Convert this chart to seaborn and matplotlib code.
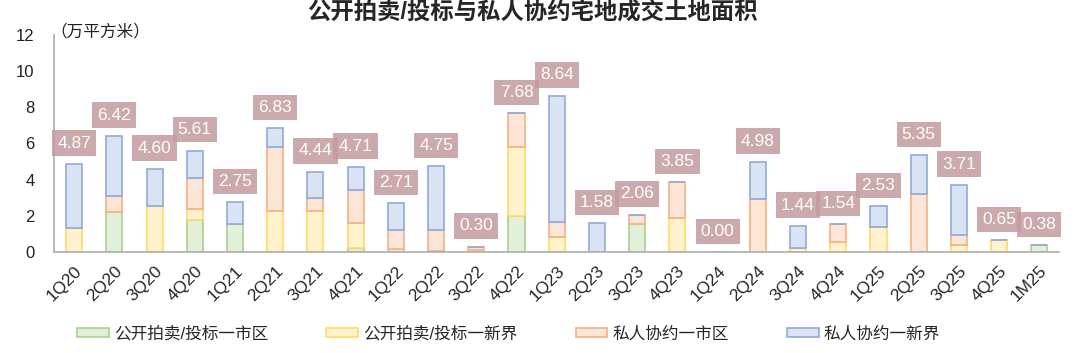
import matplotlib
matplotlib.use("Agg")
import matplotlib.pyplot as plt
import seaborn as sns
import numpy as np
from matplotlib.patches import Patch

quarters = ["1Q20", "2Q20", "3Q20", "4Q20", "1Q21", "2Q21", "3Q21", "4Q21",
            "1Q22", "2Q22", "3Q22", "4Q22", "1Q23", "2Q23", "3Q23", "4Q23",
            "1Q24", "2Q24", "3Q24", "4Q24", "1Q25", "2Q25", "3Q25", "4Q25", "1M25"]
# values (万平方米)
auction_urban = [0, 2.19, 0, 1.79, 1.57, 0, 0, 0.22, 0.18, 0.08, 0, 2.01, 0,
                 0, 1.55, 0, 0, 0, 0, 0, 0, 0, 0, 0, 0.38]
auction_nt = [1.31, 0, 2.56, 0.59, 0, 2.28, 2.28, 1.38, 0, 0, 0.10, 3.77, 0.81,
              0, 0, 1.86, 0, 0, 0.20, 0.53, 1.36, 0, 0.40, 0.65, 0]
private_urban = [0, 0.92, 0, 1.71, 0, 3.50, 0.70, 1.84, 1.04, 1.14, 0.20, 1.90, 0.85,
                 0, 0.51, 1.99, 0, 2.93, 0, 1.01, 0, 3.22, 0.54, 0, 0]
private_nt = [3.56, 3.31, 2.04, 1.52, 1.18, 1.05, 1.46, 1.27, 1.49, 3.53, 0, 0, 6.98,
              1.58, 0, 0, 0, 2.05, 1.24, 0, 1.17, 2.13, 2.77, 0, 0]
totals = [4.87, 6.42, 4.60, 5.61, 2.75, 6.83, 4.44, 4.71, 2.71, 4.75, 0.30, 7.68, 8.64,
          1.58, 2.06, 3.85, 0.00, 4.98, 1.44, 1.54, 2.53, 5.35, 3.71, 0.65, 0.38]
series_names = ["公开拍卖/投标一市区", "公开拍卖/投标一新界", "私人协约一市区", "私人协约一新界"]
title = "公开拍卖/投标与私人协约宅地成交土地面积"
unit = "（万平方米）"

sns.set_theme(style="white")
plt.rcParams["font.family"] = ["Liberation Sans", "Noto Sans CJK SC"]
plt.rcParams["axes.unicode_minus"] = False

fig = plt.figure(figsize=(10.8, 3.53), dpi=100)
ax = fig.add_axes([0.05, 0.286, 0.931, 0.615])

fills = ["#e2efd9", "#fff2cc", "#fbe5d6", "#dae3f3"]
edges = ["#a9d18e", "#ffd966", "#f4b183", "#8faadc"]
layers = [auction_urban, auction_nt, private_urban, private_nt]

n = len(quarters)
bottom = np.zeros(n)
for vals, fc, ec in zip(layers, fills, edges):
    v = np.array(vals, dtype=float)
    sns.barplot(x=quarters, y=v, bottom=bottom, color=fc, edgecolor=ec,
                linewidth=1.2, width=0.4, saturation=1, ax=ax, order=quarters)
    bottom = bottom + v

for i, t in enumerate(totals):
    ax.text(i, t + 1.15, f"{t:.2f}", ha="center", va="center", color="white",
            fontsize=12.5,
            bbox=dict(boxstyle="square,pad=0.3", facecolor="#c49a9e", edgecolor="none", alpha=0.85))

ax.set_xlim(-0.5, n - 0.5)
ax.set_ylim(0, 12)
ax.set_yticks(range(0, 13, 2))
ax.tick_params(axis="y", labelsize=12, length=0, pad=14)
ax.tick_params(axis="x", labelsize=12.5, length=0, pad=8)
plt.setp(ax.get_xticklabels(), rotation=45, ha="right", rotation_mode="anchor")
for lab in ax.get_yticklabels():
    lab.set_color("#222222")
for s in ["top", "right"]:
    ax.spines[s].set_visible(False)
ax.spines["left"].set_color("#b0b0b0")
ax.spines["bottom"].set_color("#b0b0b0")
ax.set_xlabel("")
ax.set_ylabel("")

fig.text(0.047, 0.91, unit, fontsize=12, ha="left", va="center", color="#222222")
fig.suptitle(title, fontsize=16.8, fontweight="bold", y=0.966, x=0.493, va="center")

handles = [Patch(facecolor=fc, edgecolor=ec, linewidth=1.2) for fc, ec in zip(fills, edges)]
fig.legend(handles, series_names, loc="center", bbox_to_anchor=(0.471, 0.055), ncol=4,
           frameon=False, fontsize=12, handlelength=1.9, handleheight=0.45,
           handletextpad=0.3, columnspacing=3.5)

fig.savefig("out.png", dpi=100)
